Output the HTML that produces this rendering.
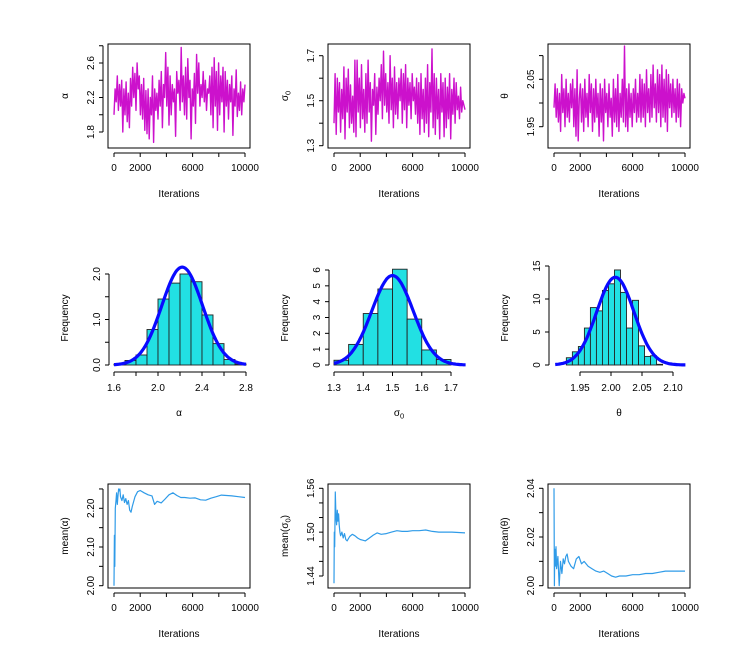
<!DOCTYPE html>
<html><head><meta charset="utf-8"><style>
body{margin:0;background:#fff}
svg{display:block;font-family:"Liberation Sans",sans-serif}
text{font-size:10px;fill:#000}
</style></head><body>
<svg id="c" width="743" height="651" viewBox="0 0 743 651" xmlns="http://www.w3.org/2000/svg"></svg>
<script>
const traceIters = 10000;
const alphaTrace = [2.0,2.3,2.15,2.45,2.05,2.35,2.1,2.4,1.8,2.3,2.0,2.38,1.92,2.25,1.85,2.42,2.1,2.55,2.2,2.48,2.05,2.6,2.3,2.45,2.0,2.35,1.95,2.42,1.82,2.28,1.78,2.3,1.72,2.2,2.0,2.45,1.68,2.3,2.05,2.25,1.95,2.4,2.1,2.5,1.85,2.35,2.2,2.72,2.1,2.55,1.88,2.45,2.0,2.35,2.15,2.3,1.75,2.5,2.25,2.4,2.05,2.78,2.15,2.45,2.0,2.55,1.95,2.65,2.2,2.4,1.72,2.3,2.1,2.48,1.9,2.7,2.25,2.6,2.1,2.35,2.2,2.5,2.15,2.4,2.05,2.3,2.25,2.45,2.0,2.55,1.85,2.66,2.1,2.5,1.82,2.6,2.0,2.45,2.15,2.55,1.8,2.5,2.1,2.4,1.95,2.35,2.15,2.45,1.76,2.3,2.1,2.52,1.98,2.25,2.05,2.38,2.0,2.3,2.15,2.35];
const sigmaTrace = [1.4,1.62,1.35,1.6,1.45,1.58,1.36,1.55,1.42,1.65,1.33,1.6,1.45,1.64,1.38,1.57,1.4,1.52,1.36,1.68,1.34,1.68,1.45,1.6,1.38,1.66,1.42,1.55,1.36,1.62,1.4,1.68,1.45,1.58,1.32,1.55,1.48,1.62,1.35,1.56,1.44,1.6,1.5,1.66,1.42,1.72,1.48,1.62,1.45,1.58,1.4,1.7,1.46,1.6,1.38,1.65,1.44,1.58,1.42,1.6,1.5,1.64,1.4,1.62,1.46,1.66,1.38,1.6,1.48,1.58,1.42,1.62,1.5,1.56,1.44,1.6,1.4,1.58,1.35,1.62,1.42,1.55,1.36,1.6,1.4,1.66,1.34,1.58,1.45,1.73,1.38,1.62,1.35,1.6,1.42,1.55,1.33,1.62,1.45,1.58,1.34,1.6,1.38,1.56,1.42,1.62,1.33,1.55,1.44,1.6,1.4,1.58,1.46,1.52,1.42,1.56,1.45,1.5,1.48,1.46];
const thetaTrace = [1.99,2.04,1.97,2.03,1.96,2.02,1.94,2.06,1.98,2.03,1.95,2.05,1.97,2.02,1.96,2.04,1.99,2.05,1.95,2.03,1.93,2.07,1.92,2.01,2.04,1.96,2.03,1.94,2.05,1.97,2.02,1.95,2.06,1.98,2.04,1.94,2.03,1.96,2.05,1.97,2.02,1.93,2.04,1.96,2.03,1.92,2.05,1.98,2.02,1.95,2.04,1.97,2.01,1.93,2.05,1.96,2.03,1.95,2.06,1.94,2.02,1.97,2.05,1.96,2.12,1.95,2.03,1.94,2.04,1.97,2.02,1.95,2.03,1.98,2.05,1.96,2.02,1.97,2.06,1.96,2.05,1.97,2.04,1.95,2.07,1.98,2.03,1.96,2.06,1.97,2.08,1.99,2.04,1.96,2.07,1.98,2.06,1.95,2.08,1.97,2.05,1.96,2.07,1.94,2.06,1.99,2.04,1.97,2.05,1.98,2.03,1.96,2.05,1.97,2.04,1.95,2.03,2.0,2.02,2.01];

const alphaBins = [1.6,1.7,1.8,1.9,2.0,2.1,2.2,2.3,2.4,2.5,2.6,2.7];
const alphaDens = [0.02,0.1,0.22,0.78,1.45,1.8,2.0,1.83,1.1,0.47,0.12,0.02];
const sigmaBins = [1.3,1.35,1.4,1.45,1.5,1.55,1.6,1.65];
const sigmaDens = [0.3,1.3,3.25,4.8,6.05,2.9,0.95,0.35];
const thetaBins = [1.928,1.9377,1.9474,1.9571,1.9668,1.9765,1.9862,1.9959,2.0056,2.0153,2.025,2.0347,2.0444,2.0541,2.0638,2.0735,2.0832];
const thetaDens = [1.1,2.0,2.8,5.6,8.7,8.2,11.3,12.3,14.4,11.0,5.6,9.8,2.9,1.3,1.4,0.1,0];
const alphaFit = [2.22,0.1855];
const sigmaFit = [1.5,0.0706];
const thetaFit = [2.007,0.03];

const alphaMeanIt = [0,30,60,100,150,200,250,300,350,400,450,500,600,700,800,900,1000,1100,1200,1300,1400,1600,1800,2000,2300,2600,2900,3100,3300,3600,3900,4200,4500,4800,5100,5400,5800,6200,6600,7000,7400,7800,8200,8600,9000,9500,10000];
const alphaMean = [2.00,2.13,2.05,2.20,2.22,2.24,2.21,2.23,2.25,2.245,2.25,2.23,2.22,2.235,2.215,2.225,2.21,2.22,2.195,2.19,2.205,2.23,2.243,2.246,2.24,2.235,2.232,2.21,2.218,2.214,2.224,2.235,2.24,2.233,2.228,2.228,2.226,2.227,2.222,2.221,2.226,2.230,2.234,2.233,2.232,2.230,2.228];
const sigmaMeanIt = [0,20,50,100,150,200,250,300,350,400,450,500,600,700,800,900,1000,1200,1400,1600,1800,2000,2200,2400,2700,3000,3300,3600,4000,4400,4800,5200,5600,6000,6500,7000,7500,8000,9000,10000];
const sigmaMean = [1.43,1.50,1.48,1.555,1.52,1.51,1.53,1.515,1.525,1.51,1.50,1.495,1.50,1.492,1.498,1.49,1.488,1.494,1.497,1.495,1.492,1.490,1.489,1.488,1.492,1.496,1.499,1.497,1.498,1.500,1.502,1.501,1.501,1.502,1.502,1.503,1.501,1.500,1.500,1.499];
const thetaMeanIt = [0,30,60,100,150,200,300,400,500,600,700,800,900,1000,1100,1300,1500,1700,1900,2100,2300,2600,2900,3200,3500,3800,4100,4400,4700,5000,5500,6000,6500,7000,7500,8000,8500,9000,10000];
const thetaMean = [2.04,2.00,2.015,2.008,2.016,2.007,2.012,2.0,2.01,2.005,2.011,2.009,2.012,2.013,2.010,2.008,2.007,2.011,2.012,2.009,2.010,2.008,2.007,2.006,2.0055,2.006,2.005,2.004,2.0035,2.004,2.004,2.0045,2.0045,2.005,2.005,2.0055,2.006,2.006,2.006];

const svg = document.getElementById('c');
const NS = 'http://www.w3.org/2000/svg';
function mk(tag, attrs, parent){const e=document.createElementNS(NS,tag);for(const k in attrs)e.setAttribute(k,attrs[k]);(parent||svg).appendChild(e);return e;}
function txt(s,x,y,rot,parent){
  const t=mk('text',{x:x,y:y,'text-anchor':'middle'},parent);
  if(rot)t.setAttribute('transform','rotate(-90 '+x+' '+y+')');
  const parts=s.split('_');
  if(parts.length===1){t.textContent=s;}
  else{
    t.appendChild(document.createTextNode(parts[0]));
    const sub=mk('tspan',{'font-size':'7.5','dy':'2.5'},t);sub.textContent=parts[1][0];
    if(parts[1].length>1){const r=mk('tspan',{'dy':'-2.5'},t);r.textContent=parts[1].slice(1);}
  }
  return t;
}
function lin(d0,d1,p0,p1){return v=>p0+(v-d0)*(p1-p0)/(d1-d0);}

function xItAxis(g,ox,by,sx){
  const ax=mk('g',{},g);
  
  
  mk('line',{x1:sx(0),x2:sx(10000),y1:by,y2:by,stroke:'#000'},ax);
  [0,2000,4000,6000,8000,10000].forEach(v=>{mk('line',{x1:sx(v),x2:sx(v),y1:by,y2:by+4,stroke:'#000'},ax);
    if(v!==4000&&v!==8000){const t=txt(String(v),sx(v),by+18,false,ax);}});
}
function yAxis(g,axX,ticks,labels,sy){
  const ax=mk('g',{},g);
  
  
  mk('line',{x1:axX,x2:axX,y1:sy(ticks[0]),y2:sy(ticks[ticks.length-1]),stroke:'#000'},ax);
  ticks.forEach((v,i)=>{mk('line',{x1:axX,x2:axX-4,y1:sy(v),y2:sy(v),stroke:'#000'},ax);
    if(labels[i]){const t=txt(labels[i],axX-9,sy(v),true,ax);}});
}
function poly(pts,g,color,w){return mk('polyline',{points:pts.map(p=>p[0].toFixed(1)+','+p[1].toFixed(1)).join(' '),fill:'none',stroke:color,'stroke-width':w,'stroke-linejoin':'round'},g);}

const cols=[0,220,440];
const traces=[
 {d:alphaTrace,lab:'α',y0:1.8,y1:2.6,p0:132,p1:63,ticks:[1.8,2.0,2.2,2.4,2.6,2.8],labels:['1.8','','2.2','','2.6','']},
 {d:sigmaTrace,lab:'σ_0',y0:1.3,y1:1.7,p0:145.7,p1:55.7,ticks:[1.3,1.4,1.5,1.6,1.7],labels:['1.3','','1.5','','1.7']},
 {d:thetaTrace,lab:'θ',y0:1.95,y1:2.05,p0:126.7,p1:79.3,ticks:[1.95,2.0,2.05,2.1],labels:['1.95','','2.05','']}
];
traces.forEach((t,i)=>{
  const ox=cols[i];
  const g=mk('g',{});
  
  
  const sx=lin(0,10000,114+ox,245+ox), sy=lin(t.y0,t.y1,t.p0,t.p1);
  const pts=t.d.map((v,k)=>[sx(k*traceIters/(t.d.length-1)),sy(v)]);
  const l=poly(pts,g,'#cc11cc',1.4);
  
  
  const b=mk('rect',{x:108+ox,y:44,width:142,height:104,fill:'none',stroke:'#000'},g);
  
  
  xItAxis(g,ox,153,sx);
  yAxis(g,103+ox,t.ticks,t.labels,sy);
  const xl=txt('Iterations',179+ox,197,false,g);
  
  
  const yl=txt(t.lab,68+ox,96,true,g);
  
  
});

const hists=[
 {bins:alphaBins,dens:alphaDens,bw:0.1,fit:alphaFit,x0:1.6,x1:2.8,px0:114,px1:246,ymax:2.0,py1:274,yt:[0,0.5,1,1.5,2],yl:['0.0','','1.0','','2.0'],xt:[1.6,1.8,2.0,2.2,2.4,2.6,2.8],xl:['1.6','','2.0','','2.4','','2.8'],cr:[1.6,2.8],lab:'α'},
 {bins:sigmaBins,dens:sigmaDens,bw:0.05,fit:sigmaFit,x0:1.3,x1:1.7,px0:334,px1:451,ymax:6,py1:270,yt:[0,1,2,3,4,5,6],yl:['0','1','2','3','4','5','6'],xt:[1.3,1.4,1.5,1.6,1.7],xl:['1.3','1.4','1.5','1.6','1.7'],cr:[1.3,1.75],lab:'σ_0'},
 {bins:thetaBins,dens:thetaDens,bw:0.0097,fit:thetaFit,x0:1.95,x1:2.10,px0:580,px1:673,ymax:15,py1:266,yt:[0,5,10,15],yl:['0','5','10','15'],xt:[1.95,2.0,2.05,2.1],xl:['1.95','2.00','2.05','2.10'],cr:[1.91,2.12],lab:'θ'}
];
hists.forEach((h,i)=>{
  const ox=cols[i];
  const g=mk('g',{});
  
  
  const sx=lin(h.x0,h.x1,h.px0,h.px1), sy=lin(0,h.ymax,365,h.py1);
  h.bins.forEach((b,k)=>{
    const v=h.dens[k]; if(v<=0) return;
    const r=mk('rect',{x:sx(b),y:sy(v),width:sx(b+h.bw)-sx(b),height:sy(0)-sy(v),fill:'#22e0e3',stroke:'#222','stroke-width':0.9},g);
    
    
  });
  const [m,s]=h.fit, pts=[];
  for(let k=0;k<=120;k++){const x=h.cr[0]+(h.cr[1]-h.cr[0])*k/120;pts.push([sx(x),sy(Math.exp(-0.5*((x-m)/s)**2)/(s*Math.sqrt(2*Math.PI)))]);}
  const c=poly(pts,g,'#0a0aff',3.2);
  
  
  const ax=mk('g',{},g);
  
  
  mk('line',{x1:sx(h.xt[0]),x2:sx(h.xt[h.xt.length-1]),y1:372,y2:372,stroke:'#000'},ax);
  h.xt.forEach((v,k)=>{mk('line',{x1:sx(v),x2:sx(v),y1:372,y2:376,stroke:'#000'},ax);
    if(h.xl[k]){const t=txt(h.xl[k],sx(v),391,false,ax);}});
  yAxis(g,109+ox,h.yt,h.yl,sy);
  const xl=txt(h.lab,179+ox,416,false,g);
  
  
  const yl=txt('Frequency',68+ox,318,true,g);
  
  
});

const means=[
 {it:alphaMeanIt,v:alphaMean,lab:'mean(α)',y0:2.0,y1:2.2,p0:585.7,p1:508.3,ticks:[2.0,2.05,2.1,2.15,2.2,2.25],labels:['2.00','','2.10','','2.20','']},
 {it:sigmaMeanIt,v:sigmaMean,lab:'mean(σ_0)',y0:1.44,y1:1.56,p0:576,p1:488.3,ticks:[1.44,1.46,1.48,1.5,1.52,1.54,1.56],labels:['1.44','','','1.50','','','1.56']},
 {it:thetaMeanIt,v:thetaMean,lab:'mean(θ)',y0:2.0,y1:2.04,p0:585.7,p1:488.3,ticks:[2.0,2.01,2.02,2.03,2.04],labels:['2.00','','2.02','','2.04']}
];
means.forEach((t,i)=>{
  const ox=cols[i];
  const g=mk('g',{});
  
  
  const sx=lin(0,10000,114+ox,245+ox), sy=lin(t.y0,t.y1,t.p0,t.p1);
  const l=poly(t.it.map((x,k)=>[sx(x),sy(t.v[k])]),g,'#2f9be8',1.2);
  
  
  const b=mk('rect',{x:108+ox,y:484,width:142,height:104,fill:'none',stroke:'#000'},g);
  
  
  xItAxis(g,ox,593,sx);
  yAxis(g,103+ox,t.ticks,t.labels,sy);
  const xl=txt('Iterations',179+ox,637,false,g);
  
  
  const yl=txt(t.lab,68+ox,536,true,g);
  
  
});
</script>
</body></html>
